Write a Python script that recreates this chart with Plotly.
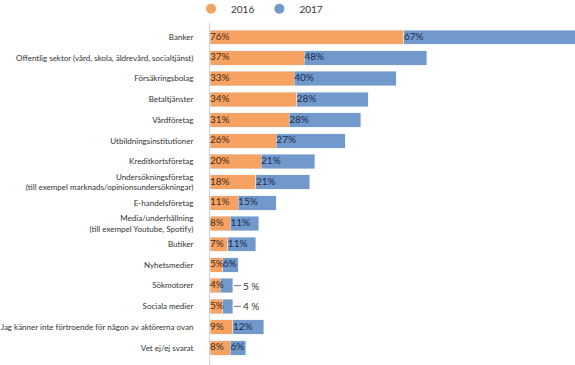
import plotly.graph_objects as go

categories = [
    "Banker",
    "Offentlig sektor (vård, skola, äldrevård, socialtjänst)",
    "Försäkringsbolag",
    "Betaltjänster",
    "Vårdföretag",
    "Utbildningsinstitutioner",
    "Kreditkortsföretag",
    "Undersökningsföretag<br>(till exempel marknads/opinionsundersökningar)",
    "E-handelsföretag",
    "Media/underhållning<br>(till exempel Youtube, Spotify)",
    "Butiker",
    "Nyhetsmedier",
    "Sökmotorer",
    "Sociala medier",
    "Jag känner inte förtroende för någon av aktörerna ovan",
    "Vet ej/ej svarat",
]
v2016 = [76, 37, 33, 34, 31, 26, 20, 18, 11, 8, 7, 5, 4, 5, 9, 8]
v2017 = [67, 48, 40, 28, 28, 27, 21, 21, 15, 11, 11, 6, 5, 4, 12, 6]
outside_2017 = ["Sökmotorer", "Sociala medier"]

ORANGE = "#F5A262"
BLUE = "#7199CB"
FONT = "Lato"

t2016 = [f"{v}%" for v in v2016]
t2017 = ["" if c in outside_2017 else f"{v}%" for c, v in zip(categories, v2017)]

fig = go.Figure()
fig.add_trace(go.Bar(y=categories, x=v2016, orientation="h", marker_color=ORANGE,
                     name="2016", showlegend=False, hoverinfo="skip"))
fig.add_trace(go.Bar(y=categories, x=v2017, orientation="h", marker_color=BLUE,
                     name="2017", showlegend=False, hoverinfo="skip"))

# value labels, drawn on top of the bars, starting at each segment's left edge
fig.add_trace(go.Scatter(x=[0] * len(categories), y=categories, mode="text", text=t2016,
                         textposition="middle right", showlegend=False, cliponaxis=False,
                         hoverinfo="skip",
                         textfont=dict(family=FONT, size=10, color="#4a2a14")))
fig.add_trace(go.Scatter(x=v2016, y=categories, mode="text", text=t2017,
                         textposition="middle right", showlegend=False, cliponaxis=False,
                         hoverinfo="skip",
                         textfont=dict(family=FONT, size=10, color="#1c2b4a")))

# legend entries with round markers
for name, col in [("2016", ORANGE), ("2017", BLUE)]:
    fig.add_trace(go.Scatter(x=[None], y=[None], mode="markers", name=name,
                             marker=dict(symbol="circle", size=10, color=col)))

for c, a, b in zip(categories, v2016, v2017):
    if c in outside_2017:
        fig.add_annotation(x=a + b, y=c, xref="x", yref="y", text=f"{b} %",
                           showarrow=True, arrowhead=0, arrowwidth=0.8, arrowcolor="#555",
                           ax=8, ay=0, xanchor="left", standoff=1,
                           font=dict(family=FONT, size=10, color="#333"))

fig.update_layout(
    width=575, height=365,
    margin=dict(l=210, r=0, t=20, b=0, autoexpand=False),
    barmode="stack", bargap=0.3,
    plot_bgcolor="white", paper_bgcolor="white",
    font=dict(family=FONT, size=8, color="#333"),
    legend=dict(orientation="h", xref="container", yref="paper",
                x=191 / 575, xanchor="left", y=1.075, yanchor="top",
                font=dict(family=FONT, size=10, color="#333"),
                traceorder="normal", itemwidth=30, tracegroupgap=0),
    xaxis=dict(range=[0, 143], visible=False),
    yaxis=dict(autorange="reversed", showline=True, linecolor="#d0d0d0", linewidth=1,
               ticks="", ticklabelstandoff=14,
               tickfont=dict(family=FONT, size=8, color="#333"),
               showgrid=False),
)

fig.write_html("out.html", config={"displayModeBar": False},
               post_script="document.body.style.margin='0';")
